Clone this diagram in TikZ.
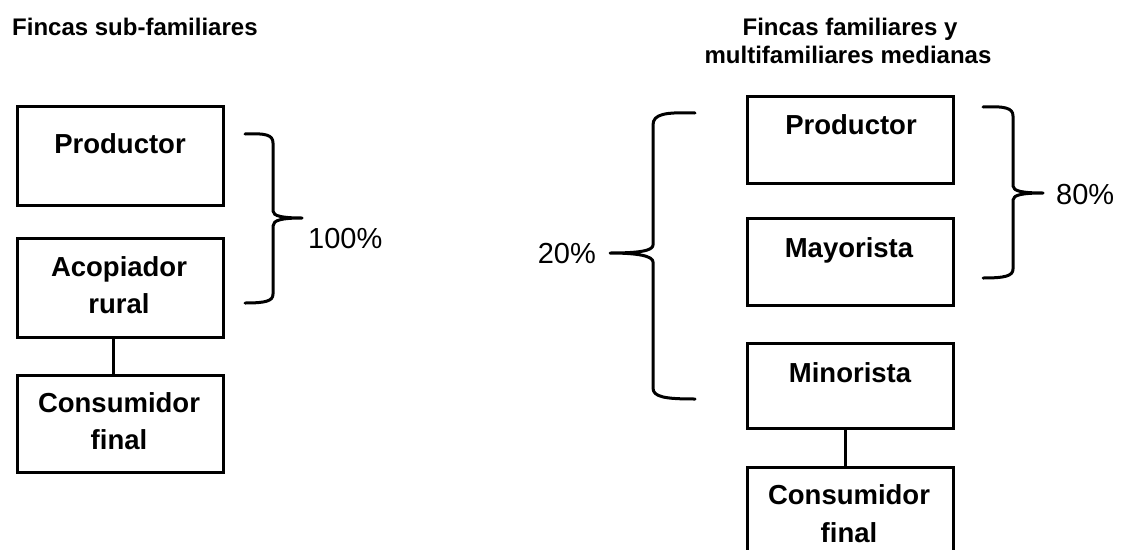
\documentclass[tikz,border=0pt]{standalone}
\usepackage{fontspec}
\setmainfont{Liberation Sans}
\begin{document}
\begin{tikzpicture}[x=1pt,y=-1pt,
  box/.style={draw, line width=3pt, minimum width=206pt, inner sep=0pt},
  lbl/.style={font=\fontsize{27.5}{32}\selectfont\bfseries, anchor=base, inner sep=0pt},
  ttl/.style={font=\fontsize{24}{28}\selectfont\bfseries, anchor=base, inner sep=0pt},
  pct/.style={font=\fontsize{29}{34}\selectfont, anchor=base, inner sep=0pt},
  link/.style={line width=3pt},
  brace/.style={line width=3pt, line join=round, line cap=round}]
\useasboundingbox (0,0) rectangle (1121,549);
\fill[white] (0,0) rectangle (1121,549);

% ---------- left column: fincas sub-familiares ----------
\node[ttl, anchor=base west] (ttlA) at (12,35) {Fincas sub-familiares};

\node[box, minimum height=99pt] (prodA) at (120,155.5) {};
\node[box, minimum height=99pt] (acop)  at (120,287.5) {};
\node[box, minimum height=97pt] (consA) at (120,423.5) {};
\draw[link] ([xshift=-7pt]acop.south) -- ([xshift=-7pt]consA.north);

\node[lbl] (tProdA) at (120,153) {Productor};
\node[lbl] (tAcop1) at (119,276) {Acopiador};
\node[lbl] (tAcop2) at (119,313) {rural};
\node[lbl] (tConsA1) at (119,412) {Consumidor};
\node[lbl] (tConsA2) at (119,449) {final};

% brace grouping productor and acopiador
\draw[brace] (245,134) .. controls (266,133) and (273,135) .. (273,143)
  -- (273,211) .. controls (273,216) and (282,218) .. (302,218)
  .. controls (282,218) and (273,220) .. (273,226)
  -- (273,294) .. controls (273,301) and (266,303) .. (245,303);
\node[pct, anchor=base west] (pA) at (308,248) {100\%};

% ---------- right column: fincas familiares y multifamiliares ----------
\node[ttl] (ttlB1) at (850,35) {Fincas familiares y};
\node[ttl] (ttlB2) at (848,63) {multifamiliares medianas};

\node[box, minimum height=87pt] (prodB) at (850,139.5) {};
\node[box, minimum height=87pt] (mayo)  at (850,261.5) {};
\node[box, minimum height=85pt] (mino)  at (850,385.5) {};
\node[box, minimum height=100pt] (consB) at (850,517) {};
\draw[link] ([xshift=-5pt]mino.south) -- ([xshift=-5pt]consB.north);

\node[lbl] (tProdB) at (851,134) {Productor};
\node[lbl] (tMayo)  at (849,257) {Mayorista};
\node[lbl] (tMino)  at (850,382) {Minorista};
\node[lbl] (tConsB1) at (849,504) {Consumidor};
\node[lbl] (tConsB2) at (849,542) {final};

% brace grouping productor, mayorista and minorista
\draw[brace] (695,113) .. controls (665,112) and (653,114) .. (653,125)
  -- (653,245) .. controls (653,251) and (638,253) .. (610,253)
  .. controls (638,253) and (653,256) .. (653,262)
  -- (653,388) .. controls (653,397) and (665,399) .. (695,399);
\node[pct, anchor=base east] (pB) at (596,263) {20\%};

% brace grouping productor and mayorista
\draw[brace] (983,107) .. controls (1005,106) and (1013,108) .. (1013,116)
  -- (1013,186) .. controls (1013,191) and (1022,193) .. (1043,193)
  .. controls (1022,193) and (1013,195) .. (1013,200)
  -- (1013,269) .. controls (1013,276) and (1005,278) .. (983,278);
\node[pct, anchor=base west] (pC) at (1056,204) {80\%};
\end{tikzpicture}
\end{document}
